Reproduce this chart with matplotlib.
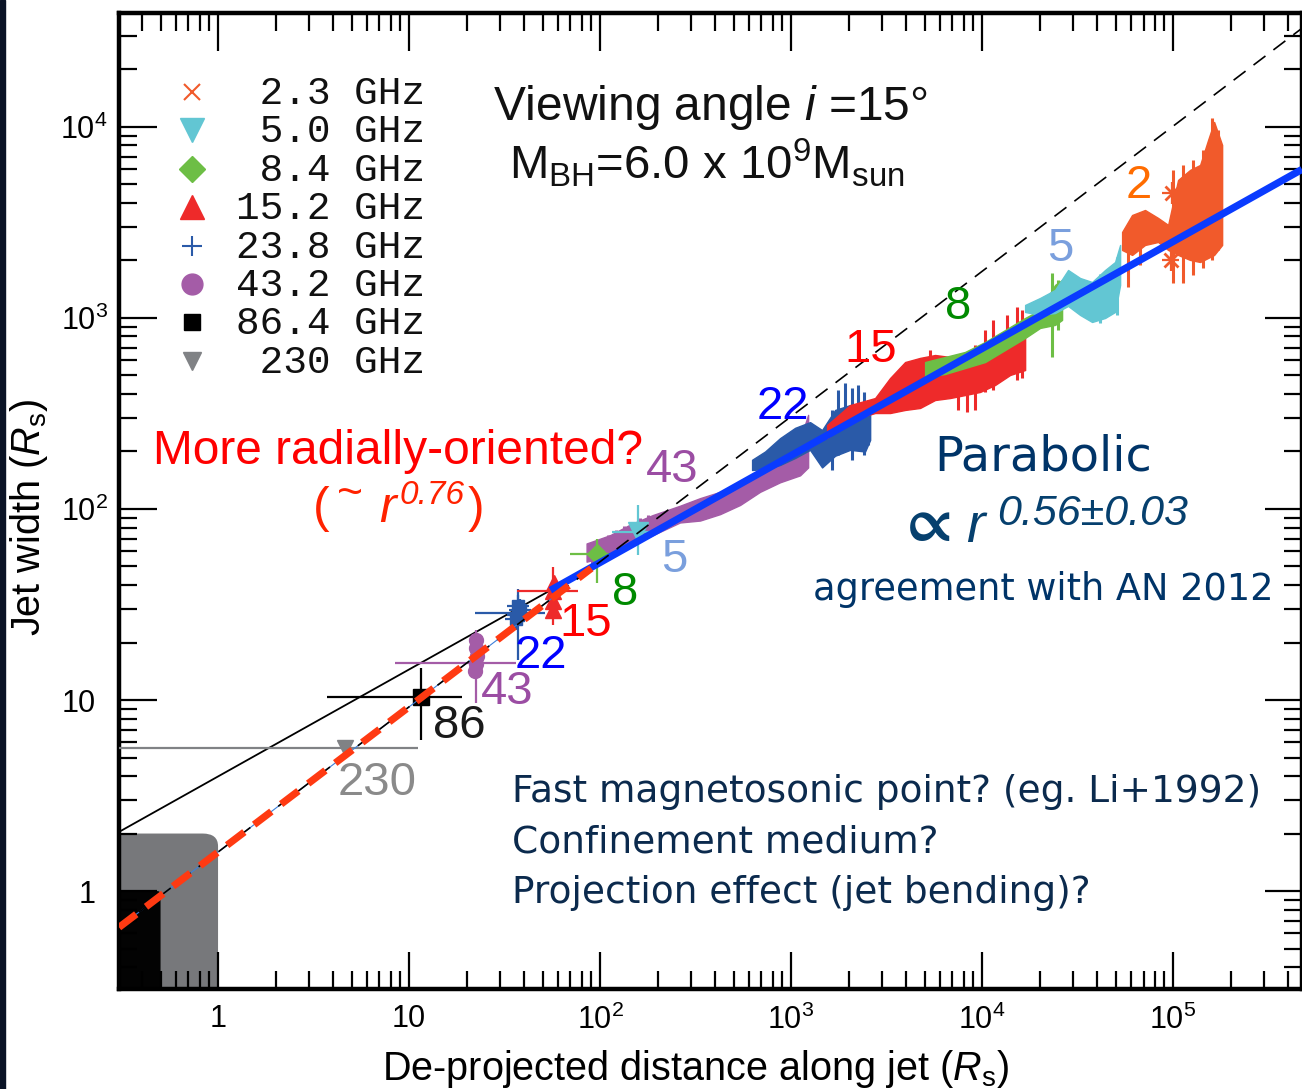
import numpy as np
import matplotlib
matplotlib.use("Agg")
import matplotlib.pyplot as plt
from matplotlib.patches import Rectangle, FancyBboxPatch
from matplotlib.lines import Line2D
from matplotlib.ticker import LogLocator, NullFormatter

plt.rcParams['font.family'] = ['Liberation Sans', 'DejaVu Sans']
plt.rcParams['mathtext.fontset'] = 'custom'
plt.rcParams['mathtext.rm'] = 'Liberation Sans'
plt.rcParams['mathtext.it'] = 'Liberation Sans:italic'
plt.rcParams['mathtext.bf'] = 'Liberation Sans:bold'
plt.rcParams['mathtext.fallback'] = 'stixsans'

# ---------------------------------------------------------------- data
x_range = (0.303, 4.73e5)
y_range = (0.307, 3.95e4)

x_major = [1, 10, 1e2, 1e3, 1e4, 1e5]
x_major_labels = ['1', '10', r'$10^{2}$', r'$10^{3}$', r'$10^{4}$', r'$10^{5}$']
y_major = [1, 10, 1e2, 1e3, 1e4]
y_major_labels = ['1', '10', r'$10^{2}$', r'$10^{3}$', r'$10^{4}$']

# power-law profiles  W = coeff * r**index
para_coeff, para_index = 3.98, 0.56
rad_coeff, rad_index = 1.60, 0.76
para_break = 55.0          # thin black -> thick blue
rad_red_end = 90.0          # end of the red dashed segment
rad_blue_end = 60.0

# event-horizon scale boxes (r, W upper corners)
core_box = (0.5, 1.0)
outer_box = (1.0, 2.0)

freq_labels = [' 2.3 GHz', ' 5.0 GHz', ' 8.4 GHz', '15.2 GHz',
               '23.8 GHz', '43.2 GHz', '86.4 GHz', ' 230 GHz']

# continuous profiles: r, lower W, upper W
band43_r = [85, 113, 144, 189, 262, 334, 425, 541, 688, 876, 1114, 1228]
band43_lo = [53, 57, 65, 73, 85, 87, 94, 105, 123, 138, 150, 165]
band43_hi = [66, 73, 83, 93, 104, 114, 123, 135, 160, 181, 230, 311]

band22_r = [625, 731, 876, 1050, 1257, 1453, 1700, 2037, 2440, 2594]
band22_lo = [160, 162, 170, 185, 204, 165, 190, 204, 200, 230]
band22_hi = [181, 200, 235, 266, 285, 259, 330, 350, 340, 320]

band15_r = [1543, 2037, 2754, 3299, 3954, 4735, 5675, 6797, 8146, 9766, 11700, 14020, 16800]
band15_lo = [235, 292, 318, 318, 330, 338, 372, 381, 395, 410, 446, 503, 534]
band15_hi = [275, 350, 381, 485, 588, 618, 640, 625, 640, 697, 740, 815, 865]

band8_r = [5030, 6400, 8146, 10370, 13200, 16800, 20130, 24100, 26230]
band8_lo = [491, 509, 547, 588, 680, 786, 887, 920, 977]
band8_hi = [588, 625, 664, 749, 865, 1000, 1101, 1489, 1581]

band5_r = [16800, 20130, 24100, 28200, 32600, 37650, 44050, 49700, 52800]
band5_lo = [1075, 1037, 1062, 1156, 1037, 953, 1000, 1075, 1489]
band5_hi = [1170, 1273, 1402, 1783, 1619, 1543, 1783, 1964, 2411]

band2_r = [54080, 61000, 71300, 83450, 94200, 106200, 122800, 138500, 152500, 164000, 180600]
band2_lo = [2270, 2138, 2411, 2500, 2270, 2138, 2013, 1964, 2061, 2138, 2411]
band2_hi = [2820, 3460, 3675, 3340, 3070, 5280, 5960, 6325, 8550, 10620, 8050]

# individual error bars along the profiles: r, lower W, upper W
spk43_r = [90.8, 100, 110, 121, 134, 147, 162, 178]
spk43_lo = [50.9, 54.3, 56.7, 59.4, 62.5, 65.6, 68.8, 72.2]
spk43_hi = [66.4, 68.8, 73.0, 77.6, 81.5, 85.5, 89.7, 93.0]

spk22_r = [1640, 1762, 1918, 2086, 2243, 2411, 2530]
spk22_lo = [160, 192, 216, 181, 208, 192, 216]
spk22_hi = [330, 420, 457, 430, 446, 410, 372]

spk15_r = [5345, 7484, 8340, 9190, 10370, 11420, 13520, 15250, 16200]
spk15_lo = [395, 330, 322, 330, 410, 420, 503, 473, 485]
spk15_hi = [680, 603, 640, 722, 865, 977, 1037, 1142, 1101]

spk8_r = [23240, 25000]
spk8_lo = [625, 865]
spk8_hi = [1720, 1581]

spk5_r = [41500, 50900]
spk5_lo = [942, 1037]
spk5_hi = [1700, 2086]

spk2_r = [58100, 67200, 100000, 112800, 127300, 143600, 160000, 172000]
spk2_lo = [1453, 1892, 1525, 1525, 1679, 1828, 2013, 2270]
spk2_hi = [2560, 3460, 5960, 6325, 6720, 7580, 11140, 9640]

# single measurements: r, W, r-range, W-range
p230_r, p230_w = [4.6], [5.6]
p230_rlo, p230_rhi = [0.2], [11.2]

p86_r, p86_w = [11.6], [10.4]
p86_rlo, p86_rhi = [3.7], [18.9]
p86_wlo, p86_whi = [6.2], [14.7]

p43_r = [22.1, 22.4, 22.6, 22.3, 22.5]
p43_w = [14.2, 15.5, 17.0, 18.8, 20.5]
p43e_r, p43e_w = [22.4], [15.6]
p43e_rlo, p43e_rhi = [8.4], [36.3]
p43e_wlo, p43e_whi = [9.6], [23.3]

p23_r = [36.5, 37.3, 38.0, 37.0]
p23_w = [26.5, 28.0, 29.5, 31.0]
p23e_r, p23e_w = [37.0], [28.5]
p23e_rlo, p23e_rhi = [22.2], [51.5]
p23e_wlo, p23e_whi = [16.2], [38.0]

p15_r = [57.0, 57.0, 56.5, 57.5]
p15_w = [29.5, 33.0, 37.0, 41.0]
p15e_r, p15e_w = [57.0], [37.2]
p15e_rlo, p15e_rhi = [36.7], [77.0]
p15e_wlo, p15e_whi = [24.6], [49.7]

p8_r, p8_w = [96.0], [58.0]
p8_rlo, p8_rhi = [70.0], [112.0]
p8_wlo, p8_whi = [41.0], [70.0]

p5_r, p5_w = [158.0], [76.0]
p5_rlo, p5_rhi = [115.0], [198.0]
p5_wlo, p5_whi = [57.5], [105.0]

p2_r, p2_w = [98900, 97000], [4510, 2013]
p2_rlo, p2_rhi = [88000, 87000], [110000, 108000]
p2_wlo, p2_whi = [3950, 1760], [5150, 2300]

# ---------------------------------------------------------------- style
c2 = '#F15A2B'
c5 = '#62C6D3'
c8 = '#6DBE45'
c15 = '#EE2A2A'
c22 = '#2A5AA8'
c43 = '#A45CA7'
c86 = '#000000'
c230 = '#808285'
blue_fit = '#0A3BFF'
red_fit = '#FF3A12'

W_PX, H_PX = 1302, 1089
fig = plt.figure(figsize=(W_PX / 100, H_PX / 100), dpi=100)
ax = fig.add_axes([119 / W_PX, 1 - 989 / H_PX, (1302 - 119) / W_PX, (989 - 13) / H_PX])
ax.set_xscale('log')
ax.set_yscale('log')
ax.set_xlim(*x_range)
ax.set_ylim(*y_range)

# dark strip at the left border of the slide
fig.patches.append(Rectangle((0, 0), 5 / W_PX, 1, transform=fig.transFigure,
                             color='#0A1326', zorder=0))

# scale boxes, rounded in display space
to_axes = ax.transScale + ax.transLimits
ox, oy = to_axes.transform(outer_box)
cx, cy = to_axes.transform(core_box)
ax.add_patch(FancyBboxPatch((-0.1, -0.1), ox + 0.1, oy + 0.1,
                            boxstyle='round,pad=0,rounding_size=0.013',
                            transform=ax.transAxes, facecolor='#77787B',
                            edgecolor='none', zorder=1))
ax.add_patch(FancyBboxPatch((-0.1, -0.1), cx + 0.1, cy + 0.1,
                            boxstyle='round,pad=0,rounding_size=0.003',
                            transform=ax.transAxes, facecolor='#030303',
                            edgecolor='none', zorder=1.1))

# continuous width profiles
bands = [
    (band43_r, band43_lo, band43_hi, c43, spk43_r, spk43_lo, spk43_hi),
    (band22_r, band22_lo, band22_hi, c22, spk22_r, spk22_lo, spk22_hi),
    (band15_r, band15_lo, band15_hi, c15, spk15_r, spk15_lo, spk15_hi),
    (band8_r, band8_lo, band8_hi, c8, spk8_r, spk8_lo, spk8_hi),
    (band5_r, band5_lo, band5_hi, c5, spk5_r, spk5_lo, spk5_hi),
    (band2_r, band2_lo, band2_hi, c2, spk2_r, spk2_lo, spk2_hi),
]
for k, (r, lo, hi, c, sr, slo, shi) in enumerate(bands):
    ax.fill_between(r, lo, hi, facecolor=c, edgecolor=c, linewidth=1.0, zorder=2 + 0.01 * k)
    ax.vlines(sr, slo, shi, colors=c, linewidth=2.2, zorder=2 + 0.01 * k)


def asym(center, lo, hi):
    return [np.array(center) - np.array(lo), np.array(hi) - np.array(center)]


eb = dict(linestyle='none', capsize=0, elinewidth=1.6, zorder=3.5)
# 230 GHz
ax.errorbar(p230_r, p230_w, xerr=asym(p230_r, p230_rlo, p230_rhi),
            marker='v', ms=11, color=c230, ecolor=c230, **eb)
# 86 GHz
ax.errorbar(p86_r, p86_w, xerr=asym(p86_r, p86_rlo, p86_rhi),
            yerr=asym(p86_w, p86_wlo, p86_whi), marker='s', ms=12,
            color=c86, ecolor=c86, **eb)
# 43 GHz
ax.errorbar(p43e_r, p43e_w, xerr=asym(p43e_r, p43e_rlo, p43e_rhi),
            yerr=asym(p43e_w, p43e_wlo, p43e_whi), marker='none', ecolor=c43, **eb)
ax.plot(p43_r, p43_w, 'o', ms=10, color=c43, zorder=3.5)
# 23.8 GHz
ax.errorbar(p23e_r, p23e_w, xerr=asym(p23e_r, p23e_rlo, p23e_rhi),
            yerr=asym(p23e_w, p23e_wlo, p23e_whi), marker='none', ecolor=c22, **eb)
ax.plot(p23_r, p23_w, 's', ms=8, color=c22, zorder=3.5)
ax.plot(p23_r, p23_w, '+', ms=16, mew=1.6, color=c22, zorder=3.5)
# 15.2 GHz
ax.errorbar(p15e_r, p15e_w, xerr=asym(p15e_r, p15e_rlo, p15e_rhi),
            yerr=asym(p15e_w, p15e_wlo, p15e_whi), marker='none', ecolor=c15, **eb)
ax.plot(p15_r, p15_w, '^', ms=11, color=c15, zorder=3.5)
# 8.4 GHz
ax.errorbar(p8_r, p8_w, xerr=asym(p8_r, p8_rlo, p8_rhi),
            yerr=asym(p8_w, p8_wlo, p8_whi), marker='D', ms=10,
            color=c8, ecolor=c8, **eb)
# 5.0 GHz
ax.errorbar(p5_r, p5_w, xerr=asym(p5_r, p5_rlo, p5_rhi),
            yerr=asym(p5_w, p5_wlo, p5_whi), marker='v', ms=14,
            color=c5, ecolor=c5, **eb)
# 2.3 GHz
ax.errorbar(p2_r, p2_w, xerr=asym(p2_r, p2_rlo, p2_rhi),
            yerr=asym(p2_w, p2_wlo, p2_whi), marker='x', ms=10, mew=2,
            color=c2, ecolor=c2, **eb)

# parabolic profile W ~ r^0.56
r_inner = np.array([x_range[0], para_break])
r_outer = np.array([para_break, x_range[1]])
ax.plot(r_inner, para_coeff * r_inner ** para_index, color='black', lw=1.3, zorder=3)
ax.plot(r_outer, para_coeff * r_outer ** para_index, color=blue_fit, lw=5.2,
        solid_capstyle='butt', zorder=4)

# radial profile W ~ r^0.76
r_full = np.array([x_range[0], x_range[1]])
ax.plot(r_full, rad_coeff * r_full ** rad_index, color='black', lw=1.2,
        dashes=(9, 6), zorder=5)
r_blue = np.array([x_range[0], rad_blue_end])
ax.plot(r_blue, rad_coeff * r_blue ** rad_index, color='#3D7FD9', lw=0.8, zorder=4.9)
r_red = np.array([x_range[0], rad_red_end])
ax.plot(r_red, rad_coeff * r_red ** rad_index, color=red_fit, lw=5.2,
        dashes=(3.0, 1.7), zorder=6)

# ---------------------------------------------------------------- axes
ax.set_xticks(x_major, x_major_labels)
ax.set_yticks(y_major, y_major_labels)
for axis in (ax.xaxis, ax.yaxis):
    axis.set_minor_locator(LogLocator(base=10, subs=np.arange(2, 10), numticks=40))
    axis.set_minor_formatter(NullFormatter())
ax.tick_params(which='both', direction='in', top=True, right=True,
               width=1.6, labelsize=22, colors='black')
ax.tick_params(which='major', length=27)
ax.tick_params(which='minor', length=13)
ax.tick_params(axis='x', which='major', pad=11)
for t, lab in zip(ax.yaxis.get_major_ticks(), y_major_labels):
    t.set_pad(8 if '^' in lab else 17)
for s in ax.spines.values():
    s.set_linewidth(3.2)
ax.set_axisbelow(False)

ax.set_xlabel(r'De-projected distance along jet ($\mathit{R}_{\rm s}$)', fontsize=28.5)
ax.set_ylabel(r'Jet width ($\mathit{R}_{\rm s}$)', fontsize=28.5)
ax.xaxis.set_label_coords((695 - 119) / 1183, (989 - 1048) / 976)
ax.yaxis.set_label_coords((50 - 119) / 1183, (989 - 518) / 976)

# ---------------------------------------------------------------- legend
leg_markers = [
    dict(marker='x', ms=11, mew=1.5, color=c2),
    dict(marker='v', ms=17, color=c5),
    dict(marker='D', ms=13, color=c8),
    dict(marker='^', ms=17, color=c15),
    dict(marker='+', ms=14, mew=1.5, color=c22),
    dict(marker='o', ms=15, color=c43),
    dict(marker='s', ms=12, color=c86),
    dict(marker='v', ms=13, color=c230),
]


def fx(px):
    return px / W_PX


def fy(py):
    return 1 - py / H_PX


for i, (lab, mk) in enumerate(zip(freq_labels, leg_markers)):
    yy = 92 + 38.4 * i
    fig.add_artist(Line2D([fx(192)], [fy(yy)], transform=fig.transFigure,
                          linestyle='none', **mk))
    fig.text(fx(236), fy(yy + 2), lab, family='Liberation Mono', fontsize=28.4,
             ha='left', va='center', color='#111111')


# ---------------------------------------------------------------- annotations
def note(px, py, s, size, color='black', **kw):
    kw.setdefault('ha', 'center')
    kw.setdefault('va', 'center')
    fig.text(fx(px), fy(py), s, fontsize=size, color=color, **kw)


note(710, 107, r'Viewing angle $\mathit{i}$ =15°', 34.5, '#111111')
note(707, 163, r'M$_{\rm BH}$=6.0 x 10$^{\rm 9}$M$_{\rm sun}$', 34, '#111111')

note(398, 452, 'More radially-oriented?', 34.5, '#FF0000')
note(321, 509, '(', 36, '#FF2200')
note(350, 495, '~', 32, '#FF2200')
note(387, 509, 'r', 36, '#FF2200', style='italic')
note(432, 496, '0.76', 24, '#FF2200', style='italic')
note(476, 509, ')', 36, '#FF2200')

navy_font = ['DejaVu Sans']
note(1043, 457, 'Parabolic', 34.5, '#003468', family=navy_font)
note(930, 526, '∝', 46, '#06406E', family=['STIXGeneral', 'DejaVu Sans'], weight='bold')
note(975, 528, 'r', 40, '#06406E', style='italic')
note(1093, 514, '0.56±0.03', 31, '#06406E', style='italic')
note(1043, 590, 'agreement with AN 2012', 26.5, '#003468', family=navy_font)

for k, line in enumerate(['Fast magnetosonic point? (eg. Li+1992)',
                          'Confinement medium?',
                          'Projection effect (jet bending)?']):
    note(512, 792 + 50.5 * k, line, 27, '#0B2A4D', ha='left', family=navy_font)

freq_tags = [
    (1139, 186, '2', '#FF6C00'), (1060, 249, '5', '#7A9FDD'),
    (958, 307, '8', '#008A00'), (871, 350, '15', '#FF0000'),
    (783, 407, '22', '#0000FF'), (672, 470, '43', '#9B4DA3'),
    (674, 560, '5', '#7A9FDD'), (625, 593, '8', '#008A00'),
    (586, 624, '15', '#FF0000'), (541, 656, '22', '#0000FF'),
    (507, 692, '43', '#9B4DA3'), (459, 726, '86', '#1A1A1A'),
    (377, 783, '230', '#8A8A8A'),
]
for px, py, s, c in freq_tags:
    note(px, py, s, 34, c)

fig.savefig('out.png', dpi=100)
